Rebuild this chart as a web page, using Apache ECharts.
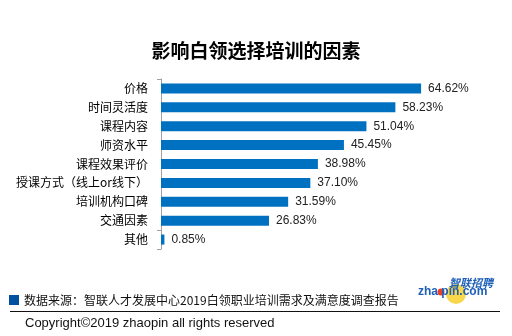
<!DOCTYPE html>
<html><head><meta charset="utf-8">
<script src="https://cdn.jsdelivr.net/npm/echarts@6/dist/echarts.min.js"></script>
<style>html,body{margin:0;padding:0;background:#fff}#c{width:512px;height:336px}</style>
</head><body><div id="c"></div>
<script>
const titleText = '影响白领选择培训的因素';
const categories = ['价格','时间灵活度','课程内容','师资水平','课程效果评价','授课方式（线上or线下）','培训机构口碑','交通因素','其他'];
const values = [64.62, 58.23, 51.04, 45.45, 38.98, 37.10, 31.59, 26.83, 0.85];
const sourceText = '数据来源：智联人才发展中心2019白领职业培训需求及满意度调查报告';
const copyrightText = 'Copyright©2019 zhaopin all rights reserved';

const chart = echarts.init(document.getElementById('c'));
const cjk = '"Noto Sans CJK SC", "Noto Sans", sans-serif';
const lat = '"Liberation Sans", Arial, sans-serif';
chart.setOption({
  backgroundColor: '#fff',
  animation: false,
  title: { text: titleText, left: 'center', top: 36, textStyle: { fontSize: 19, fontWeight: 'bold', color: '#000', fontFamily: cjk } },
  grid: { left: 161, top: 79, width: 322, height: 170 },
  xAxis: { type: 'value', min: 0, max: 80, show: false },
  yAxis: {
    type: 'category', data: categories, inverse: true,
    axisLine: { show: true, lineStyle: { color: '#a0a0a0', width: 1 } },
    axisTick: { show: true, length: 4, lineStyle: { color: '#a0a0a0' }, interval: function (i) { return i === 0 || i >= categories.length - 1; } },
    axisLabel: { margin: 13, fontSize: 12, color: '#000', fontFamily: cjk },
    splitLine: { show: false }
  },
  series: [{
    type: 'bar', data: values, barWidth: 10,
    itemStyle: { color: '#0070C0' },
    label: { show: true, position: 'right', distance: 7, formatter: p => p.value.toFixed(2) + '%', fontSize: 12, color: '#222', fontFamily: lat }
  }],
  graphic: [
    { type: 'rect', z: 10, shape: { x: 9, y: 295, width: 10, height: 10 }, style: { fill: '#0050A0' } },
    { type: 'text', z: 10, x: 24, y: 300, style: { text: sourceText, font: '12px ' + cjk, fill: '#111', textVerticalAlign: 'middle' } },
    { type: 'line', z: 10, shape: { x1: 10, y1: 311.5, x2: 500, y2: 311.5 }, style: { stroke: '#111', lineWidth: 1 } },
    { type: 'text', z: 10, x: 25, y: 323, style: { text: copyrightText, font: '13px ' + lat, fill: '#111', textVerticalAlign: 'middle' } },
    { type: 'circle', z: 10, shape: { cx: 456, cy: 294, r: 10 }, style: { fill: '#F8D84A' } },
    { type: 'circle', z: 11, shape: { cx: 441, cy: 292, r: 3.5 }, style: { fill: '#E8402A' } },
    { type: 'text', z: 12, x: 449, y: 283, style: { text: '智联招聘', font: 'italic bold 11px ' + cjk, fill: '#1E5FB8', textVerticalAlign: 'middle' } },
    { type: 'text', z: 12, x: 418, y: 292, style: { text: 'zha pin.com', font: 'bold 12px ' + lat, fill: '#1E5FB8', textVerticalAlign: 'middle' } }
  ]
});
</script></body></html>
